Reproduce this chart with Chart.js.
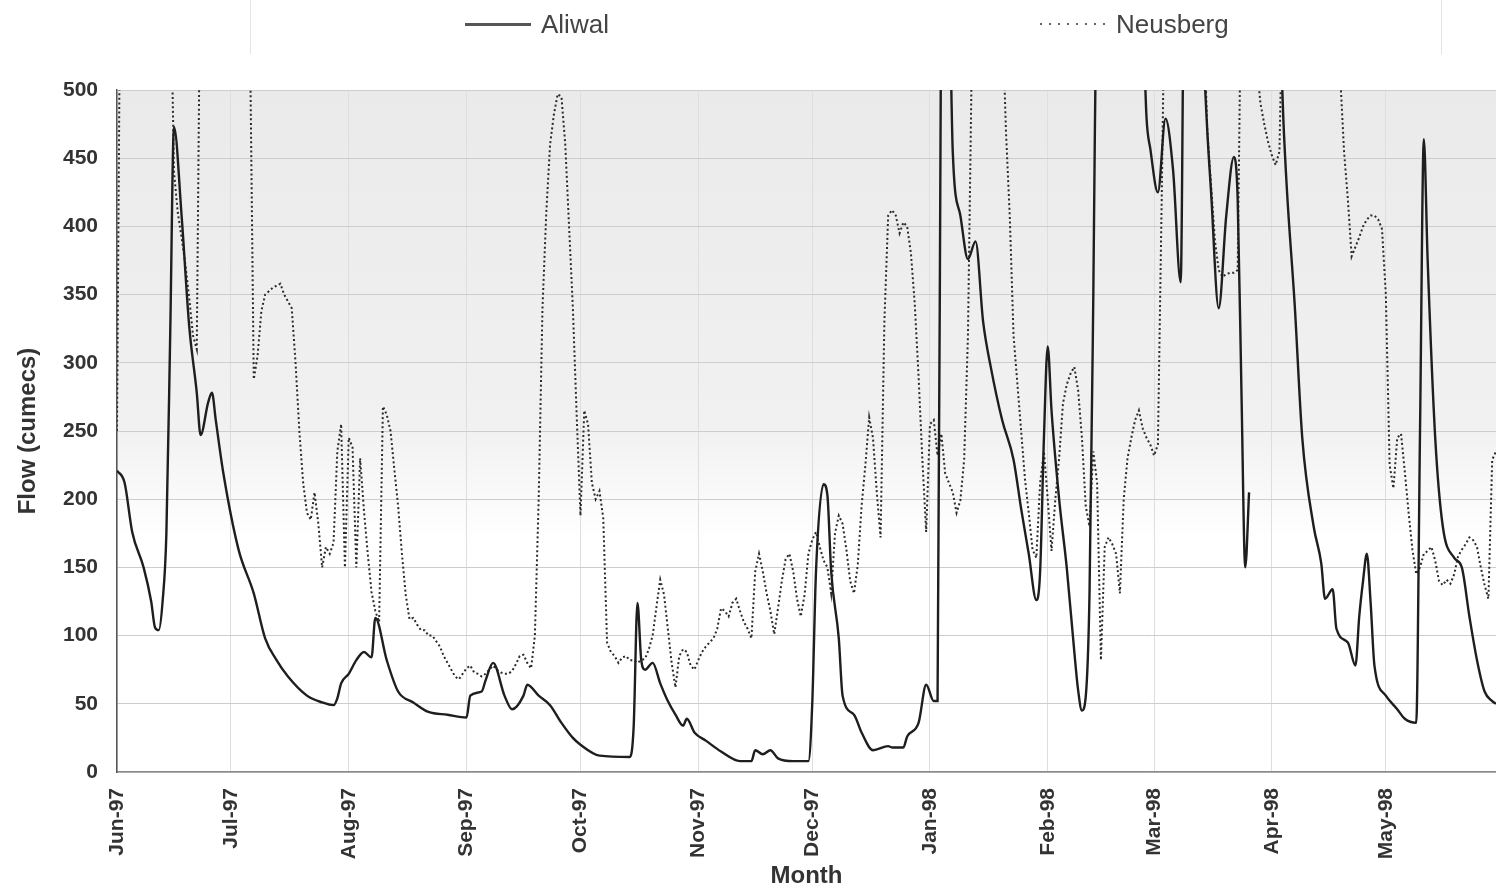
<!DOCTYPE html>
<html>
<head>
<meta charset="utf-8">
<title>Aliwal and Neusberg daily flow, Jun-97 to May-98</title>
<script src="https://cdn.jsdelivr.net/npm/chart.js@4.4.1/dist/chart.umd.min.js"></script>
<style>
  html, body { margin: 0; padding: 0; background: #fff; }
  #wrap { position: relative; width: 1496px; height: 893px; overflow: hidden; }
  #legendBox {
    position: absolute; left: 250px; top: -2px; width: 1190px; height: 56px;
    border-left: 1px solid #e4e4e4; border-right: 1px solid #e4e4e4;
  }
  .key {
    position: absolute; top: 8px; height: 32px; display: flex; align-items: center;
    font: 26px "Liberation Sans", Arial, sans-serif; color: #444;
  }
  .swatch { width: 66px; height: 2px; margin-right: 10px; }
  .swatch.solid { background: #555; height: 3px; }
  .swatch.dotted { background: repeating-linear-gradient(to right, #666 0 2px, transparent 2px 9px); }
</style>
</head>
<body>
<div id="wrap">
  <canvas id="flowChart"></canvas>
  <div id="legendBox"></div>
  <div class="key" style="left:465px"><span class="swatch solid"></span>Aliwal</div>
  <div class="key" style="left:1040px"><span class="swatch dotted"></span>Neusberg</div>
</div>
<script>
  // x axis: day number counted from 1 June 1997
  const monthStart = [0, 30, 61, 92, 122, 153, 183, 214, 245, 273, 304, 334];
  const monthLabel = ["Jun-97", "Jul-97", "Aug-97", "Sep-97", "Oct-97", "Nov-97",
                      "Dec-97", "Jan-98", "Feb-98", "Mar-98", "Apr-98", "May-98"];
  const flowTicks = [0, 50, 100, 150, 200, 250, 300, 350, 400, 450, 500];

  // Aliwal (solid) - null marks missing record in late March
  const aliwalDay = [0, 2, 4, 7, 9, 10, 11, 12, 13, 14, 15, 17, 19, 21, 22, 24, 25, 26, 28, 32,
    36, 39, 42, 45, 50, 54, 57, 58, 59, 61, 63, 65, 67, 68, 71, 74, 78, 82, 87, 92,
    93, 96, 97, 99, 102, 104, 107, 108, 111, 114, 117, 120, 122, 127, 135, 136, 137, 138, 139, 141,
    143, 145, 147, 149, 150, 152, 155, 159, 164, 167, 168, 170, 172, 174, 178, 182, 183, 184, 186, 187,
    188, 190, 191, 194, 196, 199, 203, 204, 207, 208, 211, 213, 215, 216, 217, 218, 219, 220, 222, 224,
    226, 228, 230, 233, 236, 238, 240, 242, 243, 244, 245, 246, 248, 250, 252, 253, 254, 255, 256, 257,
    258, 262, 266, 270, 271, 272, 274, 276, 278, 280, 281, 284, 286, 287, 288, 290, 292, 294, 295, 296,
    297, 298, 299, 306, 307, 308, 310, 312, 315, 317, 318, 320, 321, 324, 326, 327, 328, 329, 330, 331,
    334, 337, 339, 342, 343, 344, 345, 347, 349, 352, 354, 356, 358, 360, 362, 363];
  const aliwalFlow = [221, 212, 176, 150, 125, 106, 104, 125, 175, 320, 473, 408, 327, 278, 247, 271, 278, 258, 219, 163,
    131, 98, 82, 70, 56, 51, 49, 54, 65, 72, 82, 88, 84, 113, 82, 59, 51, 44, 42, 40,
    56, 59, 67, 80, 56, 46, 56, 64, 56, 49, 36, 25, 20, 12, 11, 33, 124, 82, 75, 80,
    65, 52, 42, 34, 39, 29, 23, 15, 8, 8, 16, 13, 16, 10, 8, 8, 49, 147, 211, 203,
    147, 98, 56, 42, 29, 16, 19, 18, 18, 26, 36, 64, 52, 52, 600, 720, 600, 455, 408, 376,
    389, 330, 297, 258, 229, 193, 160, 126, 147, 245, 312, 265, 200, 150, 88, 60, 45, 55, 131, 350,
    620, 800, 750, 560, 480, 457, 425, 479, 441, 359, 620, 700, 530, 470, 425, 340, 408, 451, 420, 278,
    150, 205, null, 560, 480, 425, 343, 245, 180, 153, 127, 134, 105, 95, 78, 114, 140, 160, 124, 78,
    56, 46, 39, 36, 250, 464, 376, 245, 180, 157, 150, 114, 82, 59, 52, 50];

  // Neusberg (dotted)
  const neusbergDay = [0, 1, 5, 10, 14, 15, 16, 17, 18, 19, 20, 21, 22, 26, 30, 34, 35, 36, 37, 38,
    39, 41, 43, 44, 46, 47, 48, 49, 50, 51, 52, 53, 54, 55, 56, 57, 58, 59, 60, 61,
    62, 63, 64, 65, 66, 67, 68, 69, 70, 71, 72, 73, 74, 75, 76, 77, 78, 79, 80, 81,
    82, 83, 84, 85, 86, 87, 88, 89, 90, 91, 92, 93, 94, 95, 96, 97, 98, 99, 100, 101,
    102, 103, 104, 105, 106, 107, 108, 109, 110, 111, 112, 113, 114, 115, 116, 117, 118, 119, 120, 121,
    122, 123, 124, 125, 126, 127, 128, 129, 130, 131, 132, 133, 134, 135, 136, 137, 138, 139, 140, 141,
    142, 143, 144, 145, 146, 147, 148, 149, 150, 151, 152, 153, 154, 155, 156, 157, 158, 159, 160, 161,
    162, 163, 164, 165, 166, 167, 168, 169, 170, 171, 172, 173, 174, 175, 176, 177, 178, 179, 180, 181,
    182, 183, 184, 185, 186, 187, 188, 189, 190, 191, 192, 193, 194, 195, 196, 197, 198, 199, 200, 201,
    202, 203, 204, 205, 206, 207, 208, 209, 210, 211, 212, 213, 214, 215, 216, 217, 218, 219, 220, 221,
    222, 223, 224, 225, 228, 232, 233, 234, 235, 236, 237, 238, 239, 240, 241, 242, 243, 244, 245, 246,
    247, 248, 249, 250, 251, 252, 253, 254, 255, 256, 257, 258, 259, 260, 261, 262, 263, 264, 265, 266,
    267, 268, 269, 270, 271, 272, 273, 274, 275, 276, 280, 284, 286, 287, 288, 289, 290, 291, 292, 293,
    294, 295, 296, 299, 300, 301, 302, 303, 304, 305, 306, 307, 312, 318, 322, 323, 324, 325, 326, 327,
    328, 329, 330, 331, 332, 333, 334, 335, 336, 337, 338, 339, 340, 341, 342, 343, 344, 345, 346, 347,
    348, 349, 350, 351, 352, 353, 354, 355, 356, 357, 358, 359, 360, 361, 362, 363];
  const neusbergFlow = [250, 650, 820, 720, 600, 440, 410, 392, 372, 348, 320, 310, 620, 820, 760, 640, 540, 288, 305, 338,
    350, 355, 358, 350, 340, 300, 250, 212, 190, 185, 205, 182, 150, 165, 160, 168, 235, 255, 150, 245,
    238, 150, 230, 192, 160, 132, 118, 110, 268, 262, 250, 222, 195, 160, 130, 112, 113, 108, 104, 104,
    100, 100, 96, 92, 85, 80, 75, 70, 68, 72, 76, 78, 73, 72, 70, 72, 75, 78, 75, 73,
    72, 72, 74, 79, 85, 86, 80, 76, 100, 200, 340, 410, 460, 482, 497, 495, 460, 400, 340, 262,
    188, 265, 255, 212, 200, 206, 186, 95, 88, 85, 80, 84, 85, 82, 82, 80, 82, 83, 90, 100,
    121, 141, 130, 105, 80, 62, 85, 90, 88, 78, 75, 82, 88, 92, 95, 98, 105, 120, 118, 114,
    124, 127, 118, 110, 105, 98, 147, 160, 147, 131, 118, 101, 120, 140, 156, 160, 147, 127, 114, 130,
    160, 170, 176, 165, 155, 150, 131, 175, 188, 182, 163, 140, 131, 152, 195, 225, 260, 245, 205, 172,
    330, 408, 412, 408, 395, 403, 400, 380, 343, 290, 229, 176, 255, 258, 232, 248, 219, 212, 205, 190,
    199, 229, 320, 520, 700, 640, 560, 470, 408, 320, 285, 250, 215, 190, 163, 157, 212, 235, 200, 162,
    200, 230, 270, 284, 292, 297, 280, 245, 195, 180, 235, 212, 82, 165, 172, 167, 160, 131, 200, 230,
    245, 258, 265, 252, 245, 240, 232, 240, 420, 620, 760, 640, 560, 470, 430, 390, 368, 363, 365, 366,
    366, 368, 600, 650, 520, 490, 475, 462, 452, 445, 455, 600, 760, 680, 510, 455, 420, 378, 385, 392,
    400, 405, 408, 408, 405, 398, 350, 225, 208, 245, 248, 220, 190, 163, 145, 150, 160, 162, 165, 155,
    140, 137, 141, 138, 145, 158, 163, 167, 172, 170, 165, 150, 137, 127, 229, 235];

  const toPoints = (days, flows) => days.map((d, i) => ({ x: d, y: flows[i] }));

  // light grey cast over the upper part of the plot
  const plotShade = {
    id: "plotShade",
    beforeDraw(chart) {
      const { ctx, chartArea: area, scales } = chart;
      const fadeEnd = scales.y.getPixelForValue(170);
      const g = ctx.createLinearGradient(0, area.top, 0, fadeEnd);
      g.addColorStop(0, "#eaeaea");
      g.addColorStop(0.75, "#f1f1f1");
      g.addColorStop(1, "#ffffff");
      ctx.save();
      ctx.fillStyle = g;
      ctx.fillRect(area.left, area.top, area.right - area.left, fadeEnd - area.top);
      ctx.restore();
    },
  };

  Chart.defaults.font.family = '"Liberation Sans", Arial, sans-serif';
  Chart.defaults.color = "#333";

  new Chart(document.getElementById("flowChart"), {
    type: "line",
    data: {
      datasets: [
        {
          label: "Aliwal",
          data: toPoints(aliwalDay, aliwalFlow),
          borderColor: "#1e1e1e",
          borderWidth: 2.4,
          pointRadius: 0,
          cubicInterpolationMode: "monotone", // smooth recession curves, no overshoot
          spanGaps: false,
        },
        {
          label: "Neusberg",
          data: toPoints(neusbergDay, neusbergFlow),
          borderColor: "#2a2a2a",
          borderWidth: 2,
          borderDash: [2, 2.6],
          pointRadius: 0,
          tension: 0,
        },
      ],
    },
    options: {
      responsive: true,
      maintainAspectRatio: false,
      animation: false,
      events: [],
      layout: { padding: { top: 90, right: 0, bottom: 0, left: 0 } },
      plugins: { legend: { display: false }, tooltip: { enabled: false } },
      scales: {
        x: {
          type: "linear",
          min: 0,
          max: 363,
          afterBuildTicks: (scale) => { scale.ticks = monthStart.map((v) => ({ value: v })); },
          afterFit: (scale) => { scale.height = 121; },
          ticks: {
            autoSkip: false,
            minRotation: 90,
            maxRotation: 90,
            padding: 16,
            color: "#333",
            font: { size: 21, weight: "bold" },
            callback: (value, index) => monthLabel[index],
          },
          grid: { color: "#dedede", drawTicks: false },
          border: { color: "#8a8a8a", width: 1.5 },
          title: {
            display: true,
            text: "Month",
            color: "#333",
            font: { size: 24, weight: "bold" },
            padding: { top: 0, bottom: 2 },
          },
        },
        y: {
          min: 0,
          max: 500,
          afterBuildTicks: (scale) => { scale.ticks = flowTicks.map((v) => ({ value: v })); },
          afterFit: (scale) => { scale.width = 117; },
          ticks: {
            padding: 19,
            color: "#333",
            font: { size: 21, weight: "bold" },
          },
          grid: { color: "#cdcdcd", drawTicks: false },
          border: { color: "#555", width: 1.5 },
          title: {
            display: true,
            text: "Flow (cumecs)",
            color: "#333",
            font: { size: 24, weight: "bold" },
            padding: { top: 14, bottom: 0 },
          },
        },
      },
    },
    plugins: [plotShade],
  });
</script>
</body>
</html>
